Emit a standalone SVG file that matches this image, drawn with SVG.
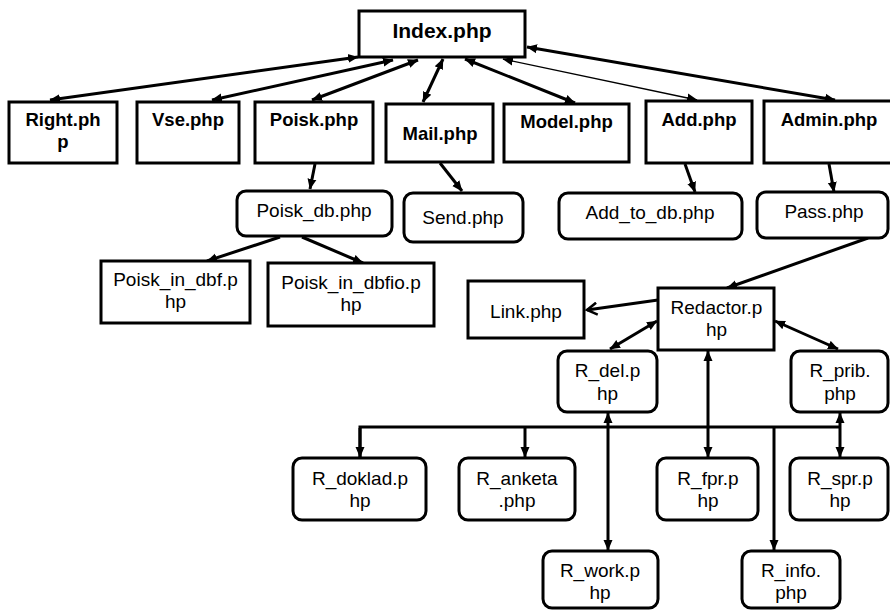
<svg xmlns="http://www.w3.org/2000/svg" width="890" height="611" viewBox="0 0 890 611">
<style>
.box{fill:#fff;stroke:#000;stroke-width:3}
.b{font-family:"Liberation Sans",Arial,sans-serif;font-weight:bold;font-size:18.5px;text-anchor:middle;fill:#000}
.bi{font-family:"Liberation Sans",Arial,sans-serif;font-weight:bold;font-size:21px;text-anchor:middle;fill:#000}
.r{font-family:"Liberation Sans",Arial,sans-serif;font-size:19px;text-anchor:middle;fill:#000}
.c{fill:none;stroke:#000;stroke-width:3}
.t{fill:none;stroke:#000;stroke-width:1.3}
.d{marker-start:url(#a);marker-end:url(#a)}
.e{marker-end:url(#a)}
</style>
<defs>
<marker id="a" markerUnits="userSpaceOnUse" markerWidth="11" markerHeight="10" refX="10" refY="5" orient="auto-start-reverse" viewBox="0 0 11 10">
<path d="M0,0.5 L10.5,5 L0,9.5 z" fill="#000"/>
</marker>
<marker id="o" markerUnits="userSpaceOnUse" markerWidth="14" markerHeight="14" refX="11" refY="7" orient="auto" viewBox="0 0 14 14">
<path d="M1,1 L11,7 L1,13" fill="none" stroke="#000" stroke-width="2.5"/>
</marker>
</defs>
<rect width="890" height="611" fill="#fff"/>
<g id="connectors">
<line class="c d" x1="358" y1="57" x2="50" y2="100"/>
<line class="c d" x1="393" y1="60" x2="212" y2="100"/>
<line class="c d" x1="418" y1="60" x2="312" y2="100"/>
<line class="c d" x1="443" y1="59" x2="423" y2="102"/>
<line class="c d" x1="465" y1="59" x2="575" y2="103"/>
<line class="t d" x1="503" y1="59" x2="697" y2="100"/>
<line class="c d" x1="527" y1="47" x2="835" y2="100"/>
<line class="c e" x1="315" y1="164" x2="310" y2="189"/>
<line class="c e" x1="440" y1="163" x2="462" y2="191"/>
<line class="c e" x1="685" y1="164" x2="695" y2="192"/>
<line class="c e" x1="829" y1="164" x2="834" y2="192"/>
<line class="c e" x1="280" y1="237" x2="207" y2="261"/>
<line class="c e" x1="302" y1="237" x2="363" y2="263"/>
<line class="c e" x1="868" y1="238" x2="727" y2="288"/>
<line class="c" x1="658" y1="300" x2="587" y2="310" marker-end="url(#o)"/>
<line class="c d" x1="657" y1="321" x2="610" y2="349"/>
<line class="c d" x1="775" y1="321" x2="838" y2="349"/>
<line class="c d" x1="708" y1="351" x2="708" y2="457"/>
<line class="c d" x1="608" y1="413" x2="608" y2="550"/>
<line class="c d" x1="840" y1="413" x2="840" y2="457"/>
<polyline class="c" points="360,457 360,427 840,427"/>
<line class="c" x1="360" y1="428" x2="360" y2="457" marker-end="url(#a)"/>
<line class="c e" x1="525" y1="427" x2="525" y2="457"/>
<line class="c e" x1="774" y1="427" x2="774" y2="550"/>
</g>
<g id="n-index"><rect class="box" x="359" y="11" width="166" height="46"/><text class="bi" x="442" y="38">Index.php</text></g>
<g id="n-right"><rect class="box" x="9" y="102" width="108" height="61"/><text class="b" x="63" y="126">Right.ph</text><text class="b" x="63" y="148">p</text></g>
<g id="n-vse"><rect class="box" x="137" y="102" width="102" height="61"/><text class="b" x="188" y="126">Vse.php</text></g>
<g id="n-poisk"><rect class="box" x="255" y="102" width="118" height="61"/><text class="b" x="314" y="126">Poisk.php</text></g>
<g id="n-mail"><rect class="box" x="386" y="104" width="107" height="58"/><text class="b" x="440" y="140">Mail.php</text></g>
<g id="n-model"><rect class="box" x="504" y="104" width="125" height="58"/><text class="b" x="566.5" y="128">Model.php</text></g>
<g id="n-add"><rect class="box" x="646" y="101" width="106" height="62"/><text class="b" x="699" y="126">Add.php</text></g>
<g id="n-admin"><rect class="box" x="764" y="101" width="130" height="62"/><text class="b" x="829" y="126">Admin.php</text></g>
<g id="n-poisk-db"><rect class="box" x="237" y="191" width="155" height="45" rx="9"/><text class="r" x="314" y="217">Poisk_db.php</text></g>
<g id="n-send"><rect class="box" x="404" y="193" width="119" height="49" rx="9"/><text class="r" x="463" y="224">Send.php</text></g>
<g id="n-add-to-db"><rect class="box" x="559" y="193" width="183" height="46" rx="9"/><text class="r" x="650" y="219">Add_to_db.php</text></g>
<g id="n-pass"><rect class="box" x="757" y="192" width="131" height="46" rx="9"/><text class="r" x="824" y="218">Pass.php</text></g>
<g id="n-poisk-in-dbf"><rect class="box" x="101" y="261" width="149" height="62"/><text class="r" x="175.5" y="286">Poisk_in_dbf.p</text><text class="r" x="175.5" y="308">hp</text></g>
<g id="n-poisk-in-dbfio"><rect class="box" x="268" y="263" width="166" height="63"/><text class="r" x="351" y="289">Poisk_in_dbfio.p</text><text class="r" x="351" y="311">hp</text></g>
<g id="n-link"><rect class="box" x="468" y="281" width="116" height="57"/><text class="r" x="526" y="318">Link.php</text></g>
<g id="n-redactor"><rect class="box" x="658" y="288" width="116" height="62"/><text class="r" x="716.5" y="314">Redactor.p</text><text class="r" x="716.5" y="336">hp</text></g>
<g id="n-r-del"><rect class="box" x="558" y="351" width="99" height="61" rx="9"/><text class="r" x="607.5" y="377">R_del.p</text><text class="r" x="607.5" y="400">hp</text></g>
<g id="n-r-prib"><rect class="box" x="791" y="351" width="97" height="61" rx="9"/><text class="r" x="840" y="377">R_prib.</text><text class="r" x="840" y="400">php</text></g>
<g id="n-r-doklad"><rect class="box" x="293" y="458" width="133" height="62" rx="9"/><text class="r" x="360" y="485">R_doklad.p</text><text class="r" x="360" y="507">hp</text></g>
<g id="n-r-anketa"><rect class="box" x="459" y="458" width="116" height="62" rx="9"/><text class="r" x="517" y="485">R_anketa</text><text class="r" x="517" y="507">.php</text></g>
<g id="n-r-fpr"><rect class="box" x="657" y="458" width="101" height="62" rx="9"/><text class="r" x="708" y="485">R_fpr.p</text><text class="r" x="708" y="507">hp</text></g>
<g id="n-r-spr"><rect class="box" x="790" y="458" width="98" height="62" rx="9"/><text class="r" x="840" y="485">R_spr.p</text><text class="r" x="840" y="507">hp</text></g>
<g id="n-r-work"><rect class="box" x="543" y="551" width="115" height="57" rx="9"/><text class="r" x="600" y="577">R_work.p</text><text class="r" x="600" y="599">hp</text></g>
<g id="n-r-info"><rect class="box" x="742" y="551" width="98" height="57" rx="9"/><text class="r" x="791" y="577">R_info.</text><text class="r" x="791" y="599">php</text></g>
</svg>
